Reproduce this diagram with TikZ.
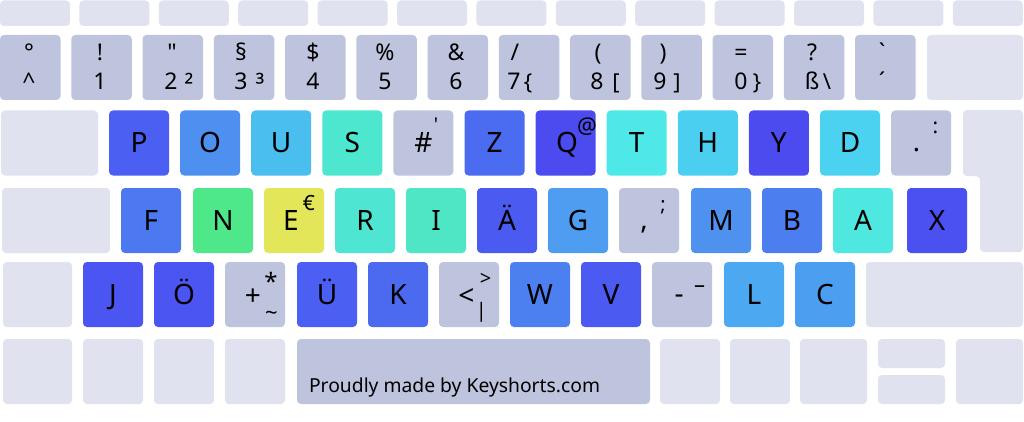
\documentclass[tikz,border=0pt]{standalone}
\usepackage{fontspec}
\newfontfamily\kf{Noto Sans}
\newcommand\kfs[1]{\kf\fontsize{#1}{#1}\selectfont}
\definecolor{lightc}{HTML}{E0E2EF}
\definecolor{grayc}{HTML}{BFC4DE}
\definecolor{cP}{HTML}{4B5FF2}
\definecolor{cO}{HTML}{4E90EF}
\definecolor{cU}{HTML}{4BBEF0}
\definecolor{cS}{HTML}{4DE6CE}
\definecolor{cZ}{HTML}{4B6BF0}
\definecolor{cQ}{HTML}{4B4BEF}
\definecolor{cT}{HTML}{4EE8E8}
\definecolor{cH}{HTML}{4BCFF0}
\definecolor{cY}{HTML}{4B4BEF}
\definecolor{cD}{HTML}{4BD2F0}
\definecolor{cF}{HTML}{4C79F0}
\definecolor{cN}{HTML}{4EE789}
\definecolor{cE}{HTML}{E4E659}
\definecolor{cR}{HTML}{4EE6D3}
\definecolor{cI}{HTML}{4EE6C4}
\definecolor{cAe}{HTML}{4B5AF0}
\definecolor{cG}{HTML}{4E9DF0}
\definecolor{cM}{HTML}{4E91EE}
\definecolor{cB}{HTML}{4C7EF0}
\definecolor{cA}{HTML}{4EE8E0}
\definecolor{cX}{HTML}{4B50F0}
\definecolor{cJ}{HTML}{4B56F2}
\definecolor{cOe}{HTML}{4B56F2}
\definecolor{cUe}{HTML}{4B5FF2}
\definecolor{cK}{HTML}{4C6AF0}
\definecolor{cW}{HTML}{4C80F0}
\definecolor{cV}{HTML}{4B5AF0}
\definecolor{cL}{HTML}{4CA8F0}
\definecolor{cC}{HTML}{4C9EF0}
\begin{document}
\begin{tikzpicture}[x=1pt,y=-1pt,
  kb/.style={rectangle, rounded corners=4pt, inner sep=0pt, outer sep=0pt,
    minimum width=60pt, minimum height=65pt, font=\kfs{28},
    text height=20pt, text depth=0pt, text=black},
  lt/.style={kb, fill=lightc},
  gr/.style={kb, fill=grayc},
  lb/.style={inner sep=0pt, outer sep=0pt, anchor=base, text=black},
  nr/.style={lb, font=\kfs{23}},
  al/.style={lb, font=\kfs{22}},
]
\useasboundingbox (0,0) rectangle (1024,422);
\fill[white] (0,0) rectangle (1024,422);

% ---- function row
\foreach \i in {0,...,12}{
  \node[lt, minimum width=70pt, minimum height=25.5pt] (f\i) at ({35+\i*79.4},13.25) {};
}

% ---- number row
\foreach \i in {0,...,12}{
  \node[gr, minimum width=60.5pt] (n\i) at ({30.25+\i*71.25},67.5) {};
}
\node[lt, minimum width=96pt] (bksp) at (975,67.5) {};

\node[nr] (t0) at (29,61) {°};
\node[nr] (b0) at (29,90) {\textasciicircum};
\node[nr] (t1) at (100,61) {!};
\node[nr] (b1) at (100,90) {1};
\node[nr] (t2) at (172,61) {"};
\node[nr] (b2) at (171,90) {2};
\node[lb, font=\kfs{25}] (a2) at (189,95) {²};
\node[nr] (t3) at (241,61) {§};
\node[nr] (b3) at (241,90) {3};
\node[lb, font=\kfs{25}] (a3) at (260,95) {³};
\node[nr] (t4) at (313,61) {\$};
\node[nr] (b4) at (313,90) {4};
\node[nr] (t5) at (385,61) {\%};
\node[nr] (b5) at (385,90) {5};
\node[nr] (t6) at (456,61) {\&};
\node[nr] (b6) at (456,90) {6};
\node[nr] (t7) at (515,61) {/};
\node[nr] (b7) at (514,90) {7};
\node[al] (a7) at (528,90) {\{};
\node[nr] (t8) at (598,61) {(};
\node[nr] (b8) at (597,90) {8};
\node[al] (a8) at (616,90) {[};
\node[nr] (t9) at (663,61) {)};
\node[nr] (b9) at (660,90) {9};
\node[al] (a9) at (677,90) {]};
\node[nr] (t10) at (741,61) {=};
\node[nr] (b10) at (741,90) {0};
\node[al] (a10) at (757,90) {\}};
\node[nr] (t11) at (812,61) {?};
\node[nr] (b11) at (812,90) {ß};
\node[al] (a11) at (827,90) {\textbackslash};
\node[nr] (t12) at (882,61) {`};
\node[nr] (b12) at (882,90) {´};

% ---- top letter row
\begin{scope}[every node/.append style={minimum height=66pt}]
\node[lt, minimum width=97pt] (tab) at (49.5,143) {};
\node[kb, fill=cP] (kP) at (139,143) {P};
\node[kb, fill=cO] (kO) at (210.1,143) {O};
\node[kb, fill=cU] (kU) at (281.2,143) {U};
\node[kb, fill=cS] (kS) at (352.3,143) {S};
\node[gr] (kHash) at (423.4,143) {};
\node[kb, fill=cZ] (kZ) at (494.5,143) {Z};
\node[kb, fill=cQ] (kQ) at (565.6,143) {};
\node[kb, fill=cT] (kT) at (636.7,143) {T};
\node[kb, fill=cH] (kH) at (707.8,143) {H};
\node[kb, fill=cY] (kY) at (778.9,143) {Y};
\node[kb, fill=cD] (kD) at (850,143) {D};
\node[gr] (kDot) at (921.1,143) {};
\end{scope}
\node[lb, font=\kfs{28}] (lHash) at (423.5,153) {\#};
\node[lb, font=\kfs{19}] (lApo) at (436,132) {'};
\node[lb, font=\kfs{28}] (lQ) at (567,153) {Q};
\node[lb, font=\kfs{22}] (lAt) at (587,134) {@};
\node[lb, font=\kfs{27}] (lDot) at (916.5,152) {.};
\node[lb, font=\kfs{21}] (lColon) at (935.5,133.5) {:};
\fill[lightc, rounded corners=4pt] (963,110) -- (1023,110) -- (1023,252)
  -- (980,252) -- (980,176) -- (963,176) -- cycle;

% ---- home row
\node[lt, minimum width=108pt] (caps) at (56,220.5) {};
\node[kb, fill=cF] (kF) at (151,220.5) {F};
\node[kb, fill=cN] (kN) at (223,220.5) {N};
\node[kb, fill=cE] (kE) at (294,220.5) {};
\node[kb, fill=cR] (kR) at (365,220.5) {R};
\node[kb, fill=cI] (kI) at (436,220.5) {I};
\node[kb, fill=cAe] (kAe) at (507,220.5) {Ä};
\node[kb, fill=cG] (kG) at (578,220.5) {G};
\node[gr] (kComma) at (649,220.5) {};
\node[kb, fill=cM] (kM) at (721,220.5) {M};
\node[kb, fill=cB] (kB) at (792,220.5) {B};
\node[kb, fill=cA] (kA) at (863,220.5) {A};
\node[kb, fill=cX] (kX) at (937,220.5) {X};
\node[lb, font=\kfs{28}] (lE) at (291,230.5) {E};
\node[lb, font=\kfs{21}] (lEuro) at (309,210) {€};
\node[lb, font=\kfs{28}] (lComma) at (644,229) {,};
\node[lb, font=\kfs{20}] (lSemi) at (663,211) {;};

% ---- bottom letter row
\node[lt, minimum width=69pt] (lshift) at (37.5,294.5) {};
\node[kb, fill=cJ] (kJ) at (113,294.5) {J};
\node[kb, fill=cOe] (kOe) at (184,294.5) {Ö};
\node[gr] (kPlus) at (255,294.5) {};
\node[kb, fill=cUe] (kUe) at (327,294.5) {Ü};
\node[kb, fill=cK] (kK) at (398,294.5) {K};
\node[gr] (kLess) at (469,294.5) {};
\node[kb, fill=cW] (kW) at (540,294.5) {W};
\node[kb, fill=cV] (kV) at (611,294.5) {V};
\node[gr] (kMinus) at (682,294.5) {};
\node[kb, fill=cL] (kL) at (754,294.5) {L};
\node[kb, fill=cC] (kC) at (825,294.5) {C};
\node[lt, minimum width=157pt] (rshift) at (944.5,294.5) {};
\node[lb, font=\kfs{28}] (lPlus) at (253,305) {+};
\node[lb, font=\kfs{24}] (lStar) at (271,290) {*};
\node[lb, font=\kfs{22}] (lTilde) at (271.5,320) {\textasciitilde};
\node[lb, font=\kfs{28}] (lLess) at (466.5,305) {<};
\node[lb, font=\kfs{20}] (lGreater) at (485.5,285) {>};
\node[lb, font=\kfs{20}] (lBar) at (481.5,317) {|};
\node[lb, font=\kfs{28}] (lMinus) at (679,303) {-};
\node[lb, font=\kfs{22}] (lDash) at (699.5,292) {–};

% ---- bottom row
\node[lt, minimum width=69pt] (m0) at (37.5,371.5) {};
\node[lt] (m1) at (113,371.5) {};
\node[lt] (m2) at (184,371.5) {};
\node[lt] (m3) at (255,371.5) {};
\node[gr, minimum width=353pt] (space) at (473.5,371.5) {};
\node[lt] (m4) at (690,371.5) {};
\node[lt] (m5) at (760,371.5) {};
\node[lt, minimum width=67pt] (m6) at (833.5,371.5) {};
\node[lt, minimum width=67pt, minimum height=29pt] (up) at (911.5,353.5) {};
\node[lt, minimum width=67pt, minimum height=29pt] (down) at (911.5,389.5) {};
\node[lt, minimum width=67pt] (m7) at (989.5,371.5) {};
\node[lb, anchor=base west, font=\kfs{19.3}] (credit) at (309,392) {Proudly made by Keyshorts.com};
\end{tikzpicture}
\end{document}
